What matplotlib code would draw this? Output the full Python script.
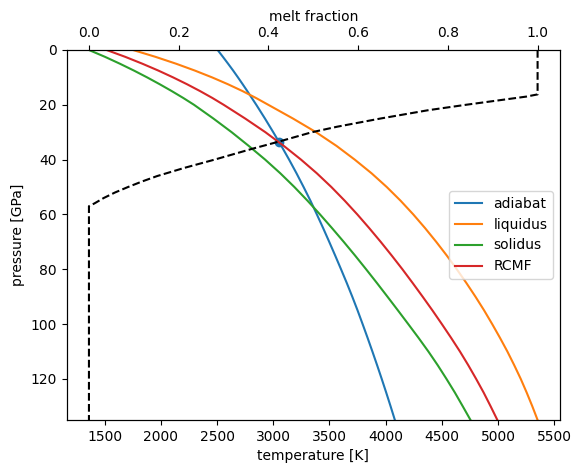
import numpy as np
import matplotlib
matplotlib.use("Agg")
import matplotlib.pyplot as plt

# pressure grid [GPa] and temperatures [K]
pressure = [0, 2.5, 5, 7.5, 10, 12.5, 15, 17.5, 20, 25, 30, 35, 40, 45, 50, 55,
            60, 65, 70, 75, 80, 85, 90, 95, 100, 105, 110, 115, 120, 125, 130, 135]
adiabat = [2505, 2552, 2598, 2643, 2686, 2728, 2769, 2809, 2849, 2926, 3000, 3072,
           3141, 3207, 3270, 3331, 3388, 3444, 3498, 3551, 3603, 3654, 3703, 3750,
           3795, 3839, 3882, 3924, 3965, 4005, 4044, 4082]
liquidus = [1752, 1952, 2135, 2302, 2456, 2597, 2727, 2846, 2956, 3175, 3381, 3563,
            3725, 3875, 4010, 4133, 4246, 4351, 4450, 4544, 4633, 4718, 4799, 4876,
            4948, 5017, 5083, 5144, 5202, 5255, 5305, 5352]
solidus = [1360, 1503, 1635, 1760, 1878, 1990, 2097, 2199, 2295, 2467, 2630, 2782,
           2928, 3063, 3188, 3305, 3416, 3523, 3627, 3728, 3826, 3922, 4016, 4109,
           4201, 4292, 4380, 4463, 4541, 4616, 4686, 4755]
rcmf = [1517, 1683, 1835, 1977, 2109, 2233, 2349, 2458, 2559, 2750, 2930, 3094,
        3247, 3388, 3517, 3636, 3748, 3854, 3956, 4054, 4149, 4240, 4329, 4416,
        4500, 4582, 4661, 4735, 4805, 4872, 4934, 4994]

# melt fraction along the adiabat
mf_pressure = [0, 16.2, 17, 18, 19, 20, 22, 25, 28, 30, 33.4, 36, 40, 43, 46, 48,
               50, 52, 54, 56, 57, 135]
melt_fraction = [1.0, 1.0, 0.975, 0.93, 0.885, 0.84, 0.755, 0.65, 0.553, 0.497, 0.424,
                 0.365, 0.28, 0.213, 0.152, 0.118, 0.087, 0.058, 0.033, 0.012, 0.0, 0.0]

# point where the adiabat crosses the RCMF
cross_T = 3052
cross_P = 33.4

fig = plt.figure(figsize=(5.85, 4.73), dpi=100)
ax = fig.add_axes([0.1137, 0.1121, 0.8436, 0.7822])

ax.plot(adiabat, pressure, label="adiabat")
ax.plot(liquidus, pressure, label="liquidus")
ax.plot(solidus, pressure, label="solidus")
ax.plot(rcmf, pressure, label="RCMF")
ax.scatter([cross_T], [cross_P])
ax.set_xlabel("temperature [K]")
ax.set_ylabel("pressure [GPa]")
ax.legend(loc="center right")

ax2 = ax.twiny()
ax2.plot(melt_fraction, mf_pressure, "k--")
ax2.set_xlabel("melt fraction")

ax.set_ylim(135, 0)

fig.savefig("out.png", dpi=100)
